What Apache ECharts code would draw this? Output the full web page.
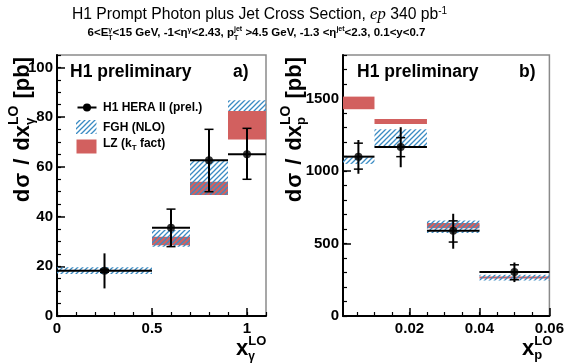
<!DOCTYPE html>
<html><head><meta charset="utf-8">
<script src="https://cdn.jsdelivr.net/npm/echarts@6/dist/echarts.min.js"></script>
<style>html,body{margin:0;padding:0;background:#fff}#c{width:567px;height:364px}</style>
</head><body><div id="c"></div>
<script>
// ---------- panel a) : x_gamma ----------
const aBinLo = [0.0, 0.5, 0.7, 0.9];
const aBinHi = [0.5, 0.7, 0.9, 1.1];
const aXc    = [0.25, 0.6, 0.8, 1.0];
const aVal   = [18.2, 35.5, 62.7, 65.1];
const aErrLo = [11.1, 27.9, 50.0, 55.0];
const aErrHi = [25.2, 43.0, 75.1, 75.5];
const aCapLo = [17.6, 27.9, 50.0, 55.0];
const aCapHi = [18.8, 43.0, 75.1, 75.5];
const aFghLo = [16.9, 27.9, 48.7, 82.5];
const aFghHi = [19.6, 34.6, 62.7, 86.8];
const aLzLo  = [null, 28.5, 48.7, 71.0];
const aLzHi  = [null, 31.9, 54.0, 82.5];
const aYTicks = [0, 20, 40, 60, 80, 100];
const aXTicks = [0, 0.5, 1];

// ---------- panel b) : x_p ----------
const bBinLo = [0.001, 0.01, 0.025, 0.04];
const bBinHi = [0.01, 0.025, 0.04, 0.06];
const bXc    = [0.0054, 0.0175, 0.0325, 0.05];
const bVal   = [1099, 1166, 588, 303];
const bErrLo = [981, 1026, 464, 234];
const bErrHi = [1214, 1302, 705, 369];
const bCapLo = [1013, 1099, 510, 250];
const bCapHi = [1192, 1230, 656, 353];
const bFghLo = [1049, 1168, 572, 245];
const bFghHi = [1095, 1288, 659, 284];
const bLzLo  = [1426, 1325, 606, 258];
const bLzHi  = [1513, 1359, 641, 272];
const bYTicks = [0, 500, 1000, 1500];
const bXTicks = [0.02, 0.04, 0.06];
const bXMinor = [0.005,0.01,0.015,0.02,0.025,0.03,0.035,0.04,0.045,0.05,0.055];

const FAM = "'Liberation Sans', Arial, sans-serif";
const RED = '#d2605f';
const BLUE = '#3a8bc3';

function hatchCanvas(){
  const s = 5, c = document.createElement('canvas');
  c.width = s; c.height = s;
  const g = c.getContext('2d');
  g.strokeStyle = BLUE; g.lineWidth = 1.3;
  g.beginPath();
  g.moveTo(-1, s + 1); g.lineTo(s + 1, -1);
  g.moveTo(-1, 1); g.lineTo(1, -1);
  g.moveTo(s - 1, s + 1); g.lineTo(s + 1, s - 1);
  g.stroke();
  return c;
}
const HATCH = {image: hatchCanvas(), repeat: 'repeat'};

function bandRows(lo, hi, y0, y1){
  const r = [];
  for (let i = 0; i < lo.length; i++) if (y0[i] != null) r.push([lo[i], hi[i], y0[i], y1[i]]);
  return r;
}
function bandSeries(rows, xi, yi, fill){
  return {type:'custom', xAxisIndex:xi, yAxisIndex:yi, data:rows, clip:true,
    renderItem:function(p, api){
      const a = api.coord([api.value(0), api.value(3)]);
      const b = api.coord([api.value(1), api.value(2)]);
      return {type:'rect', shape:{x:a[0], y:a[1], width:b[0]-a[0], height:b[1]-a[1]}, style:{fill:fill}};
    }};
}
function errRows(xc, v, el, eh, cl, ch, lo, hi){
  return xc.map((x,i)=>[x, v[i], el[i], eh[i], cl[i], ch[i], lo[i], hi[i]]);
}
function errSeries(rows, xi, yi){
  return {type:'custom', xAxisIndex:xi, yAxisIndex:yi, data:rows, clip:true,
    renderItem:function(p, api){
      const x = api.value(0), v = api.value(1);
      const h0 = api.coord([api.value(6), v]), h1 = api.coord([api.value(7), v]);
      const e0 = api.coord([x, api.value(2)]), e1 = api.coord([x, api.value(3)]);
      const c0 = api.coord([x, api.value(4)]), c1 = api.coord([x, api.value(5)]);
      const st = {stroke:'#000', lineWidth:2};
      const cw = 4.5;
      return {type:'group', children:[
        {type:'line', shape:{x1:h0[0], y1:h0[1], x2:h1[0], y2:h1[1]}, style:st},
        {type:'line', shape:{x1:e0[0], y1:e0[1], x2:e1[0], y2:e1[1]}, style:st},
        {type:'line', shape:{x1:c0[0]-cw, y1:c0[1], x2:c0[0]+cw, y2:c0[1]}, style:{stroke:'#000', lineWidth:1.5}},
        {type:'line', shape:{x1:c1[0]-cw, y1:c1[1], x2:c1[0]+cw, y2:c1[1]}, style:{stroke:'#000', lineWidth:1.5}}
      ]};
    }};
}
function pointSeries(xc, v, xi, yi){
  return {type:'scatter', xAxisIndex:xi, yAxisIndex:yi, data:xc.map((x,i)=>[x, v[i]]),
    symbol:'circle', symbolSize:8, itemStyle:{color:'#000'}, z:5};
}

// ---------- text helpers ----------
const mc = document.createElement('canvas').getContext('2d');
function fontOf(p){ return (p.i?'italic ':'') + (p.b?'bold ':'') + p.s + 'px ' + (p.fam || FAM); }
function mathText(parts, ox, oy, anchor){
  let x = 0, prevStart = 0; const items = [];
  for (const p of parts){
    const f = fontOf(p); mc.font = f;
    const w = mc.measureText(p.t).width;
    let sx;
    if (p.stack){ sx = prevStart; x = Math.max(x, sx + w); }
    else { sx = x + (p.gap || 0); prevStart = sx; x = sx + w; }
    items.push({t:p.t, f:f, x:sx, y:(p.dy||0) - 0.32*p.s});
  }
  const shift = anchor === 'middle' ? -x/2 : anchor === 'end' ? -x : 0;
  return items.map(it => ({type:'text', x:ox + it.x + shift, y:oy + it.y,
    style:{text:it.t, font:it.f, fill:'#000', textAlign:'left', textVerticalAlign:'middle', verticalAlign:'middle'}}));
}
function rotGroup(children, gx, gy){
  return {type:'group', x:gx, y:gy, rotation:Math.PI/2, children:children};
}
function yTitle(sub, subDy){
  return [
    {t:'d', s:22, b:true}, {t:'σ', s:22, b:true, gap:1},
    {t:'/', s:22, b:true, gap:8},
    {t:'dx', s:22, b:true, gap:8},
    {t:'LO', s:14, b:true, dy:-11}, {t:sub, s:13, b:true, dy:subDy, stack:true},
    {t:'[pb]', s:22, b:true, gap:7}
  ];
}

const graphics = [];
// title
graphics.push(...mathText([
  {t:'H1 Prompt Photon plus Jet Cross Section, ', s:15.7},
  {t:'ep', s:16.7, i:true, fam:"'Liberation Serif', serif"},
  {t:' 340 pb', s:15.7},
  {t:'-1', s:10, dy:-6}
], 259.5, 20, 'middle'));
graphics.push(...mathText([
  {t:'6<E', s:11.5, b:true}, {t:'γ', s:7, b:true, dy:-5}, {t:'T', s:7, b:true, dy:3, stack:true},
  {t:'<15 GeV, -1<η', s:11.5, b:true}, {t:'γ', s:7, b:true, dy:-5},
  {t:'<2.43, p', s:11.5, b:true}, {t:'jet', s:7, b:true, dy:-6}, {t:'T', s:7, b:true, dy:3, stack:true},
  {t:' >4.5 GeV, -1.3 <η', s:11.5, b:true}, {t:'jet', s:7, b:true, dy:-6},
  {t:'<2.3, 0.1<y<0.7', s:11.5, b:true}
], 256.5, 37, 'middle'));
// panel labels
graphics.push(...mathText([{t:'H1 preliminary', s:17.5, b:true}], 70, 77.5));
graphics.push(...mathText([{t:'a)', s:17.5, b:true}], 233, 77.5));
graphics.push(...mathText([{t:'H1 preliminary', s:17.5, b:true}], 357, 77.5));
graphics.push(...mathText([{t:'b)', s:17.5, b:true}], 519, 77.5));
// legend
graphics.push({type:'line', shape:{x1:77.5, y1:107.5, x2:96.5, y2:107.5}, style:{stroke:'#000', lineWidth:2}});
graphics.push({type:'circle', shape:{cx:87, cy:107.5, r:4}, style:{fill:'#000'}});
graphics.push({type:'rect', shape:{x:76, y:120, width:20.5, height:14}, style:{fill:HATCH}});
graphics.push({type:'rect', shape:{x:76.5, y:139.5, width:20, height:14}, style:{fill:RED}});
graphics.push(...mathText([{t:'H1 HERA II (prel.)', s:12, b:true}], 103, 111.7));
graphics.push(...mathText([{t:'FGH (NLO)', s:12, b:true}], 103, 131.7));
graphics.push(...mathText([{t:'LZ (k', s:12, b:true}, {t:'T', s:8, b:true, dy:3}, {t:' fact)', s:12, b:true}], 103, 147.5));
// x-axis titles
graphics.push(...mathText([{t:'x', s:22, b:true}, {t:'LO', s:13, b:true, dy:-10}, {t:'γ', s:12, b:true, dy:5, stack:true}], 236, 356));
graphics.push(...mathText([{t:'x', s:22, b:true}, {t:'LO', s:13, b:true, dy:-10}, {t:'p', s:13, b:true, dy:4, stack:true}], 522, 356));
// y-axis titles (rotated)
graphics.push(rotGroup(mathText(yTitle('γ', 5), 0, 0, 'end'), 30, 57));
graphics.push(rotGroup(mathText(yTitle('p', 4), 0, 0, 'end'), 302, 57));

const fmt = v => String(v);
const lab = {show:true, margin:4, fontSize:15, fontWeight:'bold', color:'#000', fontFamily:FAM, formatter:fmt};
const tickMajor = {show:true, inside:true, length:8, lineStyle:{color:'#000', width:1.5}};
const tickMinor = {show:true, inside:true, length:4, lineStyle:{color:'#000', width:1.2}};
const axLine = {show:true, onZero:false, lineStyle:{color:'#000', width:2}};
const none = {show:false};

const option = {
  animation:false,
  backgroundColor:'#fff',
  grid:[
    {left:57, top:55, width:209, height:261, show:true, borderColor:'#8a8a8a', borderWidth:1.5, backgroundColor:'transparent'},
    {left:343, top:55, width:209, height:261, show:true, borderColor:'#8a8a8a', borderWidth:1.5, backgroundColor:'transparent'}
  ],
  xAxis:[
    {type:'value', gridIndex:0, min:0, max:1.1, position:'bottom', axisLine:axLine,
     axisTick:Object.assign({customValues:aXTicks}, tickMajor),
     axisLabel:Object.assign({customValues:aXTicks}, lab, {margin:5}), splitLine:none},
    {type:'value', gridIndex:0, min:0, max:1.1, interval:0.1, position:'bottom', axisLine:none,
     axisTick:tickMinor, axisLabel:none, splitLine:none},
    {type:'value', gridIndex:1, min:0.001, max:0.06, position:'bottom', axisLine:axLine,
     axisTick:Object.assign({customValues:bXTicks}, tickMajor),
     axisLabel:Object.assign({customValues:bXTicks}, lab, {margin:5}), splitLine:none},
    {type:'value', gridIndex:1, min:0.001, max:0.06, position:'bottom', axisLine:none,
     axisTick:Object.assign({customValues:bXMinor}, tickMinor), axisLabel:none, splitLine:none}
  ],
  yAxis:[
    {type:'value', gridIndex:0, min:0, max:105, position:'left', axisLine:axLine,
     axisTick:Object.assign({customValues:aYTicks}, tickMajor),
     axisLabel:Object.assign({customValues:aYTicks}, lab), splitLine:none},
    {type:'value', gridIndex:0, min:0, max:105, interval:5, position:'left', axisLine:none,
     axisTick:tickMinor, axisLabel:none, splitLine:none},
    {type:'value', gridIndex:1, min:0, max:1800, position:'left', axisLine:axLine,
     axisTick:Object.assign({customValues:bYTicks}, tickMajor),
     axisLabel:Object.assign({customValues:bYTicks}, lab), splitLine:none},
    {type:'value', gridIndex:1, min:0, max:1800, interval:100, position:'left', axisLine:none,
     axisTick:tickMinor, axisLabel:none, splitLine:none}
  ],
  series:[
    bandSeries(bandRows(aBinLo, aBinHi, aLzLo, aLzHi), 0, 0, RED),
    bandSeries(bandRows(aBinLo, aBinHi, aFghLo, aFghHi), 0, 0, HATCH),
    errSeries(errRows(aXc, aVal, aErrLo, aErrHi, aCapLo, aCapHi, aBinLo, aBinHi), 0, 0),
    pointSeries(aXc, aVal, 0, 0),
    bandSeries(bandRows(bBinLo, bBinHi, bLzLo, bLzHi), 2, 2, RED),
    bandSeries(bandRows(bBinLo, bBinHi, bFghLo, bFghHi), 2, 2, HATCH),
    errSeries(errRows(bXc, bVal, bErrLo, bErrHi, bCapLo, bCapHi, bBinLo, bBinHi), 2, 2),
    pointSeries(bXc, bVal, 2, 2)
  ],
  graphic:{elements:graphics}
};
const chart = echarts.init(document.getElementById('c'), null, {renderer:'canvas'});
chart.setOption(option);
</script>
</body></html>
